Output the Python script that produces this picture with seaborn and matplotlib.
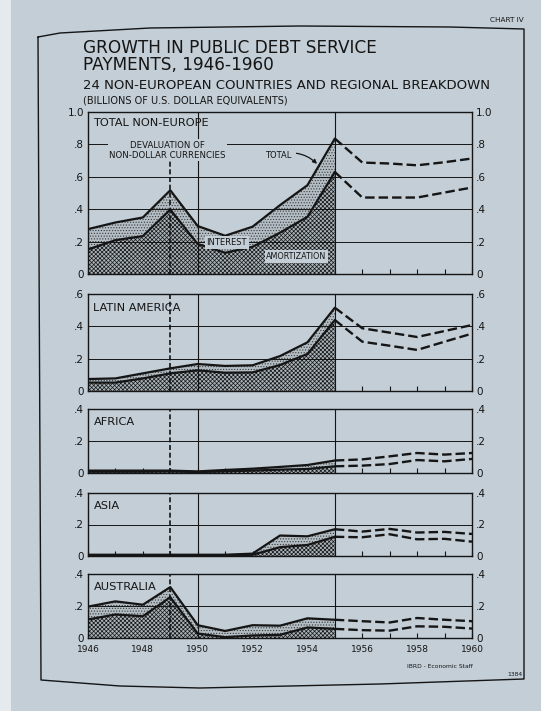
import numpy as np
import pandas as pd
import seaborn as sns
import matplotlib.pyplot as plt
from matplotlib.lines import Line2D
from matplotlib.patches import Rectangle

# ---- data (billions of US$) ----
years = [1946, 1947, 1948, 1949, 1950, 1951, 1952, 1953, 1954, 1955]
proj_years = [1955, 1956, 1957, 1958, 1959, 1960]

total_ne = [0.277, 0.318, 0.349, 0.517, 0.296, 0.236, 0.292, 0.425, 0.548, 0.836]
amort_ne = [0.152, 0.209, 0.234, 0.398, 0.185, 0.131, 0.168, 0.255, 0.353, 0.630]
total_ne_proj = [0.836, 0.688, 0.682, 0.671, 0.690, 0.713]
amort_ne_proj = [0.630, 0.472, 0.472, 0.472, 0.503, 0.534]

total_la = [0.074, 0.078, 0.109, 0.140, 0.167, 0.155, 0.159, 0.216, 0.301, 0.515]
amort_la = [0.052, 0.052, 0.078, 0.109, 0.128, 0.113, 0.115, 0.161, 0.229, 0.439]
total_la_proj = [0.515, 0.388, 0.361, 0.334, 0.371, 0.408]
amort_la_proj = [0.439, 0.305, 0.280, 0.254, 0.305, 0.355]

total_af = [0.015, 0.015, 0.015, 0.015, 0.010, 0.019, 0.027, 0.038, 0.050, 0.078]
amort_af = [0.008, 0.008, 0.008, 0.010, 0.006, 0.010, 0.015, 0.021, 0.025, 0.042]
total_af_proj = [0.078, 0.085, 0.104, 0.125, 0.115, 0.125]
amort_af_proj = [0.042, 0.046, 0.056, 0.081, 0.073, 0.088]

total_as = [0.008, 0.008, 0.008, 0.008, 0.008, 0.008, 0.015, 0.130, 0.125, 0.170]
amort_as = [0.004, 0.004, 0.004, 0.004, 0.004, 0.004, 0.008, 0.056, 0.070, 0.122]
total_as_proj = [0.170, 0.155, 0.172, 0.149, 0.153, 0.140]
amort_as_proj = [0.122, 0.119, 0.138, 0.106, 0.109, 0.091]

total_au = [0.196, 0.229, 0.208, 0.318, 0.080, 0.044, 0.080, 0.077, 0.123, 0.114]
amort_au = [0.116, 0.147, 0.136, 0.255, 0.028, 0.005, 0.016, 0.020, 0.066, 0.057]
total_au_proj = [0.114, 0.105, 0.097, 0.125, 0.114, 0.105]
amort_au_proj = [0.057, 0.049, 0.046, 0.073, 0.070, 0.059]

regions = ["TOTAL NON-EUROPE", "LATIN AMERICA", "AFRICA", "ASIA", "AUSTRALIA"]
ymaxes = [1.0, 0.6, 0.4, 0.4, 0.4]
ytick_labels = ["0", ".2", ".4", ".6", ".8", "1.0"]
xtick_years = list(range(1946, 1961))

BG = "#c3ced6"
INK = "#151515"
W, H = 541, 711

sns.set_theme(style="white", rc={"axes.facecolor": BG, "figure.facecolor": BG,
                                 "hatch.linewidth": 0.5})
plt.rcParams["font.family"] = ["DejaVu Sans"]

fig = plt.figure(figsize=(W / 100, H / 100), dpi=100)

# page edge strip on the far left
fig.add_artist(Rectangle((0, 0), 11 / W, 1, transform=fig.transFigure,
                         facecolor="#e4eaee", edgecolor="none", zorder=0))

# hand-drawn frame around the chart
fx = [38, 60, 150, 300, 450, 524, 524, 380, 200, 120, 41, 38]
fy = [37, 33, 28, 26, 27, 29, 679, 684, 688, 686, 680, 37]
fig.add_artist(Line2D([x / W for x in fx], [1 - y / H for y in fy],
                      transform=fig.transFigure, color=INK, lw=1.0))

# titles
def ftext(x, y, s, **kw):
    fig.text(x / W, 1 - y / H, s, color=INK, **kw)

ftext(83, 48, "GROWTH IN PUBLIC DEBT SERVICE", fontsize=12.2, va="center")
ftext(83, 65, "PAYMENTS, 1946-1960", fontsize=12.2, va="center")
ftext(83, 85.5, "24 NON-EUROPEAN COUNTRIES AND REGIONAL BREAKDOWN", fontsize=9.5, va="center")
ftext(83, 100.5, "(BILLIONS OF U.S. DOLLAR EQUIVALENTS)", fontsize=7.0, va="center")
ftext(524, 20, "CHART IV", fontsize=5.2, va="center", ha="right")
ftext(407, 666, "IBRD - Economic Staff", fontsize=4.3, va="center")
ftext(522, 675, "1384", fontsize=4.3, va="center", ha="right")

panels = [
    (112, 274, total_ne, amort_ne, total_ne_proj, amort_ne_proj),
    (294, 391, total_la, amort_la, total_la_proj, amort_la_proj),
    (409, 473, total_af, amort_af, total_af_proj, amort_af_proj),
    (493, 556, total_as, amort_as, total_as_proj, amort_as_proj),
    (574, 638, total_au, amort_au, total_au_proj, amort_au_proj),
]

axes = []
for i, (top, bot, tot, amo, tot_p, amo_p) in enumerate(panels):
    ax = fig.add_axes([88 / W, 1 - bot / H, (472 - 88) / W, (bot - top) / H])
    axes.append(ax)
    ymax = ymaxes[i]
    ax.set_xlim(1946, 1960)
    ax.set_ylim(0, ymax)

    ax.fill_between(years, 0, amo, facecolor="#a9b3ba", edgecolor="#151515",
                    hatch="xxxxxxxx", linewidth=0, zorder=1)
    ax.fill_between(years, amo, tot, facecolor="#b3bdc4", edgecolor="#3a3a3a",
                    hatch="......", linewidth=0, zorder=1)

    sns.lineplot(x=years, y=tot, ax=ax, color=INK, lw=1.6, zorder=5)
    sns.lineplot(x=years, y=amo, ax=ax, color=INK, lw=1.6, zorder=5)
    sns.lineplot(x=proj_years, y=tot_p, ax=ax, color=INK, lw=1.7,
                 linestyle=(0, (4, 1.7)), zorder=5)
    sns.lineplot(x=proj_years, y=amo_p, ax=ax, color=INK, lw=1.7,
                 linestyle=(0, (4, 1.7)), zorder=5)

    nt = int(round(ymax / 0.2))
    yt = [0.2 * k for k in range(nt + 1)]
    for yv in yt[1:-1]:
        ax.axhline(yv, color=INK, lw=0.7, zorder=3)
    ax.axvline(1950, color=INK, lw=0.8, zorder=3)
    ax.axvline(1955, color=INK, lw=0.8, zorder=3)
    ax.axvline(1949, ymax=0.73 if i == 0 else 1.0, color=INK, lw=1.2,
               linestyle=(0, (3, 1.6)), zorder=3)

    ax.set_yticks(yt)
    ax.set_yticklabels(ytick_labels[:nt + 1])
    ax.tick_params(axis="y", length=0, labelleft=True, labelright=True,
                   pad=3, labelsize=7.5, labelcolor=INK)
    ax.set_xticks(xtick_years)
    ax.tick_params(axis="x", direction="in", length=3.5, width=0.8,
                   color=INK, bottom=True, labelbottom=False)
    ax.set_xlabel("")
    ax.set_ylabel("")
    for sp in ax.spines.values():
        sp.set_visible(True)
        sp.set_color(INK)
        sp.set_linewidth(1.0)

    ax.text(1946.2, ymax * (0.93 if i == 0 else 0.86 if i == 1 else 0.8),
            regions[i], fontsize=8.2, color=INK,
            va="center", ha="left", zorder=6)

# x labels on the bottom panel only
axes[-1].set_xticks(xtick_years)
axes[-1].set_xticklabels([str(y) if y % 2 == 0 else "" for y in xtick_years])
axes[-1].tick_params(axis="x", labelbottom=True, labelsize=6.5, pad=5,
                     labelcolor=INK)

# annotations on the top panel
ax0 = axes[0]
box = dict(facecolor=BG, edgecolor="none", pad=1.2)
ax0.text(1948.9, 0.765, "DEVALUATION OF\nNON-DOLLAR CURRENCIES", fontsize=6.2,
         ha="center", va="center", color=INK, linespacing=1.15, bbox=box, zorder=7)
ax0.text(1951.06, 0.195, "INTEREST", fontsize=6.0, ha="center", va="center",
         color=INK, bbox=box, zorder=7)
ax0.text(1953.6, 0.107, "AMORTIZATION", fontsize=5.8, ha="center", va="center",
         color=INK, bbox=box, zorder=7)
ax0.annotate("TOTAL", xy=(1954.35, 0.68), xytext=(1952.95, 0.733), fontsize=6.0,
             ha="center", va="center", color=INK, zorder=7,
             arrowprops=dict(arrowstyle="-|>", color=INK, lw=0.9,
                             mutation_scale=6, shrinkA=1, shrinkB=0,
                             connectionstyle="arc3,rad=-0.3"))

fig.savefig("out.png", dpi=100, facecolor=BG)
